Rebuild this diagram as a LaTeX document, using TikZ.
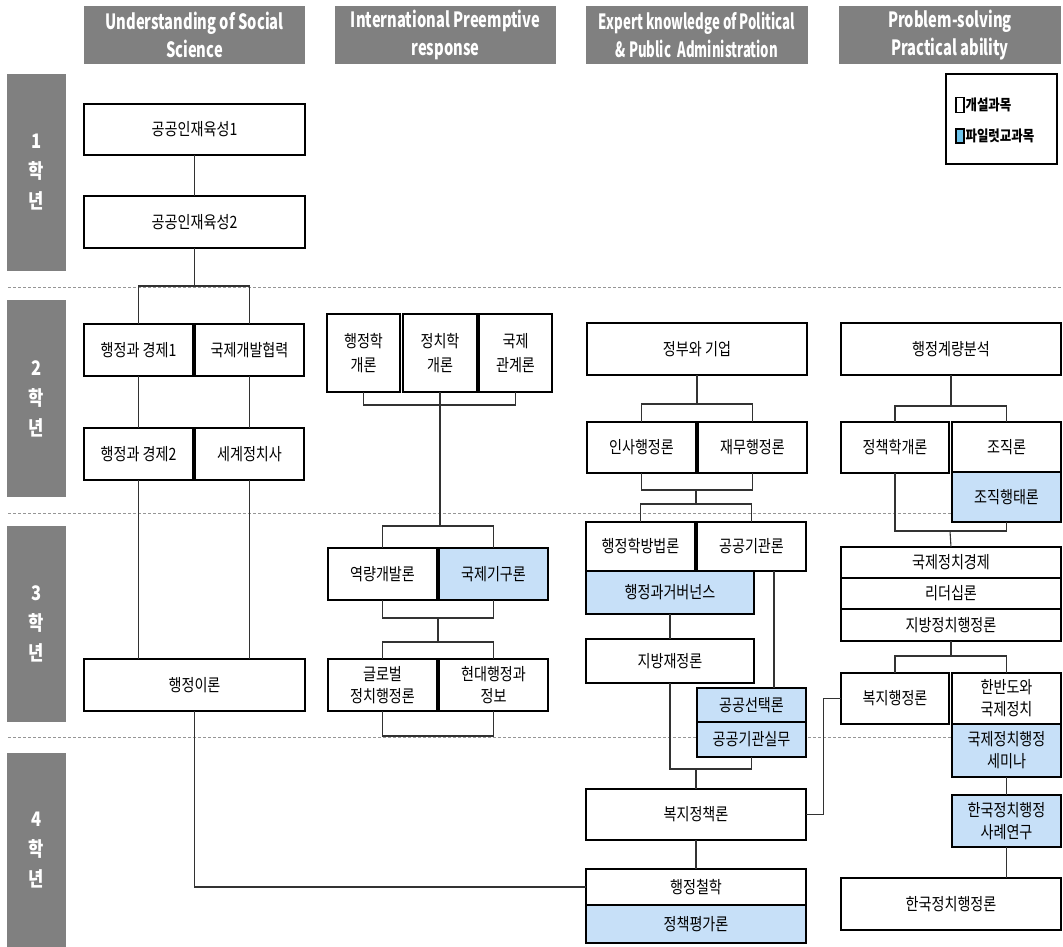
\documentclass[tikz,border=0pt]{standalone}
\usepackage{fontspec}
\setmainfont{Noto Sans CJK KR}[FakeStretch=0.83]
\newfontfamily\hdfont{Noto Sans CJK KR}[FakeStretch=0.70]
\newfontfamily\hdfontn{Noto Sans CJK KR}[FakeStretch=0.63]
\usetikzlibrary{calc}
\definecolor{hdgray}{RGB}{128,128,128}
\definecolor{pilot}{RGB}{199,224,248}
\definecolor{legblue}{RGB}{110,196,236}
\definecolor{conncol}{RGB}{50,50,50}
\definecolor{dashcol}{RGB}{150,150,150}
\tikzset{
  cbox/.style={draw=black, line width=1.3, fill=white, inner sep=1, outer sep=0, align=center,
    font=\fontsize{17}{22}\selectfont},
  pbox/.style={cbox, fill=pilot},
  hdbox/.style={fill=hdgray, text=white, inner sep=0, outer sep=0, align=center,
    font=\hdfont\bfseries\fontsize{21}{28}\selectfont},
  yrbox/.style={fill=hdgray, text=white, inner sep=0, outer sep=0, align=center,
    font=\bfseries\fontsize{20}{30}\selectfont},
  legtext/.style={anchor=west, inner sep=0, outer sep=0, xshift=1, font=\bfseries\fontsize{15}{17}\selectfont},
  cn/.style={draw=conncol, line width=1.1},
  dashln/.style={draw=dashcol, line width=1, dash pattern=on 3pt off 2pt},
}
\newcommand\mkbox[7][cbox]{\node[#1, minimum width={#5-#3}, minimum height={#6-#4}] (#2) at ({(#3+#5)/2},{(#4+#6)/2}) {#7};}
\begin{document}
\begin{tikzpicture}[x=1pt,y=-1pt]
\useasboundingbox (0,0) rectangle (1063,947);
\fill[white] (0,0) rectangle (1063,947);
% dashed separators
\draw[dashln] (8,287) -- (1063,287);
\draw[dashln] (8,513) -- (1063,513);
\draw[dashln] (8,737) -- (1063,737);
% headers
\mkbox[hdbox]{h1}{84}{6}{305}{64}{Understanding of Social\\Science}
\mkbox[hdbox]{h2}{335}{6}{556}{64}{International Preemptive\\response}
\mkbox[hdbox, font=\hdfontn\bfseries\fontsize{21}{28}\selectfont]{h3}{586}{6}{808}{64}{Expert knowledge of Political\\\& Public\ \ Administration}
\mkbox[hdbox]{h4}{839}{6}{1061}{64}{Problem-solving\\Practical ability}
% year bars
\mkbox[yrbox]{y1}{7}{74}{66}{271}{1\\학\\년}
\mkbox[yrbox]{y2}{7}{300}{66}{497}{2\\학\\년}
\mkbox[yrbox]{y3}{7}{526}{66}{722}{3\\학\\년}
\mkbox[yrbox]{y4}{7}{753}{66}{947}{4\\학\\년}
% legend
\mkbox[cbox]{leg}{946}{74}{1057}{164}{}
\node[draw=black, line width=1.1, fill=white, minimum width=8, minimum height=15, inner sep=0] (lsq1) at (960,105) {};
\node[legtext] (lt1) at (lsq1.east) {개설과목};
\node[draw=black, line width=1.1, fill=legblue, minimum width=8, minimum height=14, inner sep=0] (lsq2) at (960,136) {};
\node[legtext] (lt2) at (lsq2.east) {파일럿교과목};
% column 1
\mkbox{a1}{84}{104}{305}{155}{공공인재육성1}
\mkbox{a2}{84}{196}{305}{248}{공공인재육성2}
\mkbox{a3}{84}{324}{193}{376}{행정과 경제1}
\mkbox{a4}{195}{324}{304}{376}{국제개발협력}
\mkbox{a5}{84}{428}{193}{480}{행정과 경제2}
\mkbox{a6}{195}{428}{304}{480}{세계정치사}
\mkbox{a7}{84}{659}{305}{711}{행정이론}
% column 2
\mkbox[cbox, font=\fontsize{17}{24}\selectfont]{b1}{327}{314}{400}{392}{행정학\\개론}
\mkbox[cbox, font=\fontsize{17}{24}\selectfont]{b2}{403}{314}{477}{392}{정치학\\개론}
\mkbox[cbox, font=\fontsize{17}{24}\selectfont]{b3}{479}{314}{552}{392}{국제\\관계론}
\mkbox{b4}{328}{548}{437}{600}{역량개발론}
\mkbox[pbox]{b5}{439}{548}{548}{600}{국제기구론}
\mkbox{b6}{328}{659}{437}{711}{글로벌\\정치행정론}
\mkbox{b7}{439}{659}{548}{711}{현대행정과\\정보}
% column 3
\mkbox{c1}{587}{323}{807}{375}{정부와 기업}
\mkbox{c2}{587}{422}{696}{473}{인사행정론}
\mkbox{c3}{698}{422}{807}{473}{재무행정론}
\mkbox{c4}{586}{522}{695}{571}{행정학방법론}
\mkbox{c5}{697}{522}{806}{571}{공공기관론}
\mkbox[pbox]{c6}{586}{571}{754}{614}{행정과거버넌스}
\mkbox{c7}{586}{639}{754}{683}{지방재정론}
\mkbox[pbox]{c8}{697}{688}{806}{722}{공공선택론}
\mkbox[pbox]{c9}{697}{722}{806}{757}{공공기관실무}
\mkbox{c10}{586}{789}{806}{840}{복지정책론}
\mkbox{c11}{586}{869}{806}{905}{행정철학}
\mkbox[pbox]{c12}{586}{905}{806}{943}{정책평가론}
% column 4
\mkbox{d1}{841}{323}{1061}{375}{행정계량분석}
\mkbox{d2}{841}{422}{949}{473}{정책학개론}
\mkbox{d3}{952}{422}{1061}{472}{조직론}
\mkbox[pbox]{d4}{952}{472}{1061}{522}{조직행태론}
\mkbox{d5}{841}{547}{1061}{578}{국제정치경제}
\mkbox{d6}{841}{578}{1061}{609}{리더십론}
\mkbox{d7}{841}{609}{1061}{641}{지방정치행정론}
\mkbox{d8}{841}{673}{949}{724}{복지행정론}
\mkbox{d9}{952}{673}{1061}{724}{한반도와\\국제정치}
\mkbox[pbox]{d10}{952}{724}{1061}{777}{국제정치행정\\세미나}
\mkbox[pbox]{d11}{952}{795}{1061}{847}{한국정치행정\\사례연구}
\mkbox{d12}{841}{878}{1061}{930}{한국정치행정론}
% junction coordinates
\coordinate (j1) at (194.5,286);
\coordinate (k1) at (440,405);
\coordinate (k2) at (440,526);
\coordinate (k3) at (438,618);
\coordinate (k4) at (438,642);
\coordinate (k5) at (438,736);
\coordinate (m1) at (697,404);
\coordinate (m2) at (696,490);
\coordinate (m3) at (696,504);
\coordinate (m4) at (696,769);
\coordinate (n1) at (951,406);
\coordinate (n2) at (950,531);
\coordinate (n3) at (951,656);
% connectors column 1
\draw[cn] (a1.south) -- (a2.north);
\draw[cn] (a2.south) -- (j1);
\draw[cn] (a3.north) |- (j1) -| (a4.north);
\draw[cn] (a3.south) -- (a5.north);
\draw[cn] (a4.south) -- (a6.north);
\draw[cn] (a5.south) -- (a5.south |- a7.north);
\draw[cn] (a6.south) -- (a6.south |- a7.north);
\draw[cn] (a7.south) |- (c11.west);
% connectors column 2
\draw[cn] (b1.south) |- (k1) -| (b3.south);
\draw[cn] (b2.south) -- (k2);
\draw[cn] (b4.north) |- (k2) -| (b5.north);
\draw[cn] (b4.south) |- (k3) -| (b5.south);
\draw[cn] (k3) -- (k4);
\draw[cn] (b6.north) |- (k4) -| (b7.north);
\draw[cn] (b6.south) |- (k5) -| (b7.south);
% connectors column 3
\draw[cn] (c1.south) -- (m1);
\draw[cn] (c2.north) |- (m1) -| (c3.north);
\draw[cn] (c2.south) |- (m2) -| (c3.south);
\draw[cn] (m2) -- (m3);
\draw[cn] (c4.north) |- (m3) -| (c5.north);
\draw[cn] (c6.south) -- (c7.north);
\draw[cn] ([xshift=22.5]c5.south) -- ([xshift=22.5]c8.north);
\draw[cn] (c7.south) |- (m4) -| (c9.south);
\draw[cn] (m4) -- (c10.north);
\draw[cn] (c10.south) -- (c11.north);
\draw[cn] (c10.east) -- ++(17.5,0) |- (d8.west);
% connectors column 4
\draw[cn] (d1.south) -- (n1);
\draw[cn] (d2.north) |- (n1) -| (d3.north);
\draw[cn] (d2.south) |- (n2) -| (d4.south);
\draw[cn] (n2) -- (d5.north);
\draw[cn] (d7.south) -- (n3);
\draw[cn] (d8.north) |- (n3) -| (d9.north);
\draw[cn] (d10.south) -- (d11.north);
\draw[cn] (d11.south) -- (d11.south |- d12.north);
\end{tikzpicture}
\end{document}
